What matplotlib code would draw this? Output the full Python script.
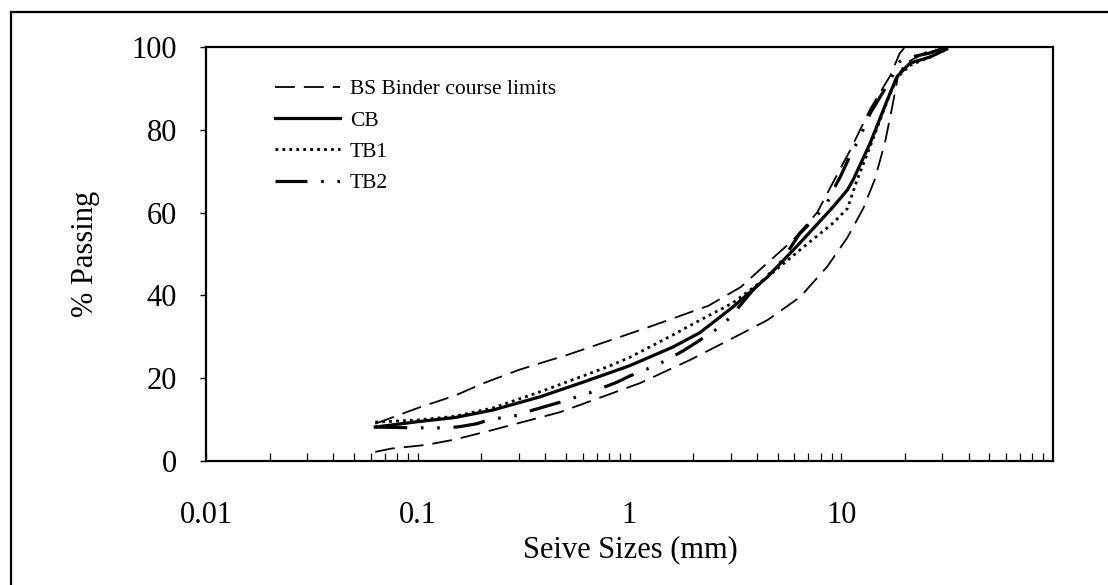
import matplotlib
matplotlib.use('Agg')
from matplotlib import pyplot as plt
from matplotlib.lines import Line2D
from matplotlib.ticker import FixedLocator, NullFormatter

plt.rcParams['font.family'] = ['Liberation Serif', 'DejaVu Serif']

# Sieve size (mm) / % passing
upper_size = [0.063, 0.1, 0.15, 0.2, 0.3, 0.4, 0.5, 1.18, 2.36, 3.35, 4.47, 5.93, 7.69, 8.87, 11.0, 13.7, 17.0, 18.9, 20.0]
upper_pass = [9, 12.8, 15.8, 18.6, 22, 24, 25.5, 32, 37.5, 42, 47.8, 53.4, 60, 66, 75, 85, 93, 98.5, 100]

lower_size = [0.063, 0.075, 0.11, 0.15, 0.226, 0.47, 1.12, 1.93, 3.08, 4.47, 6.39, 8.57, 10.7, 12.7, 14.4, 16.1, 17.4, 18.5, 20.0, 28.0]
lower_pass = [2.2, 3.0, 3.9, 5.2, 7.5, 11.8, 18.8, 24.4, 29.7, 34, 39.6, 46.9, 54, 61, 68, 77, 85.5, 92.8, 96, 100]

cb_size = [0.063, 0.1, 0.15, 0.226, 0.378, 0.6, 1.0, 1.6, 2.15, 3.08, 4.47, 6.39, 9.16, 10.7, 11.4, 13.7, 16.5, 18.3, 21.1, 26.3, 31.5]
cb_pass = [8.2, 9.5, 10.5, 12.3, 15.5, 19, 23, 27.5, 31, 37.2, 44.4, 52.7, 61.4, 65.5, 68, 76.8, 87.2, 92.8, 96.1, 97.6, 99.5]

tb1_size = [0.063, 0.1, 0.15, 0.226, 0.378, 0.6, 0.783, 1.0, 1.61, 2.15, 3.08, 4.47, 6.39, 9.16, 10.7, 11.9, 13.7, 16.5, 18.3, 21.0, 26.0, 31.5]
tb1_pass = [9.4, 9.9, 10.8, 12.8, 16.7, 20.5, 22.7, 25, 30.5, 34, 38.2, 44.4, 51, 57.5, 61, 68, 76, 87, 92.5, 95.5, 97.5, 99.5]

tb2_size = [0.063, 0.099, 0.137, 0.158, 0.19, 0.219, 0.294, 0.35, 0.47, 0.65, 0.87, 1.0, 1.35, 1.56, 1.79, 2.08, 2.68, 3.0, 3.83, 5.14, 6.39, 7.37, 8.57, 9.16, 9.89, 11.2, 12.2, 13.7, 15.5, 17.0, 18.9, 21.0, 26.0, 31.5]
tb2_pass = [8.2, 8, 8, 8.3, 9, 10, 11, 12.3, 14.2, 16.5, 19, 20.5, 23.2, 24.9, 26.6, 28.7, 32.4, 34.8, 41.3, 47.8, 55, 58.2, 62.3, 65.5, 68.6, 74.6, 78, 84, 88.5, 92, 96.5, 97.5, 98.5, 100]

x_major = [0.01, 0.1, 1, 10]
x_labels = ['0.01', '0.1', '1', '10']
y_ticks = [0, 20, 40, 60, 80, 100]

W, H = 1108, 585
fig = plt.figure(figsize=(W / 100, H / 100), dpi=100)
ax = fig.add_axes([206 / W, 1 - 461 / H, (1053 - 206) / W, (461 - 47) / H])

ax.plot(upper_size, upper_pass, color='black', lw=1.3, dashes=(11, 5),
        label='BS Binder course limits')
ax.plot(lower_size, lower_pass, color='black', lw=1.3, dashes=(11, 5))
ax.plot(cb_size, cb_pass, color='black', lw=2.3, label='CB')
ax.plot(tb1_size, tb1_pass, color='black', lw=2.0, dashes=(1, 1.5), label='TB1')
ax.plot(tb2_size, tb2_pass, color='black', lw=2.3,
        dashes=(10, 4.3, 0.8, 4.3, 0.8, 4.3), label='TB2')

ax.set_xscale('log')
ax.set_xlim(0.01, 100)
ax.set_ylim(0, 100)

ax.xaxis.set_major_locator(FixedLocator(x_major))
ax.set_xticklabels(x_labels)
ax.xaxis.set_minor_locator(FixedLocator([k * 10.0 ** e for e in range(-2, 2) for k in range(2, 10)]))
ax.xaxis.set_minor_formatter(NullFormatter())
ax.tick_params(axis='x', which='both', direction='in', length=6, width=0.9,
               labelsize=22, pad=29)
ax.set_yticks(y_ticks)
ax.tick_params(axis='y', direction='out', length=4, width=1.0, labelsize=22, pad=17)

for s in ax.spines.values():
    s.set_linewidth(1.6)

fig.text(85 / W, 1 - 254 / H, '% Passing', rotation=90, ha='center', va='center',
         fontsize=22)
fig.text(630 / W, 1 - 550 / H, 'Seive Sizes (mm)', ha='center', va='center',
         fontsize=22)

ax.legend(loc='upper left', bbox_to_anchor=(0.0815, 0.922), frameon=False,
          fontsize=15.5, handlelength=3.0, handletextpad=0.47,
          labelspacing=0.52, borderpad=0, borderaxespad=0)

# outer chart frame (only left and top edges are visible)
fig.add_artist(Line2D([10.5 / W, 10.5 / W], [0, 1 - 11.5 / H], color='black', lw=1.6))
fig.add_artist(Line2D([10.5 / W, 1], [1 - 11.5 / H, 1 - 11.5 / H], color='black', lw=1.6))

fig.savefig('out.png', dpi=100)
